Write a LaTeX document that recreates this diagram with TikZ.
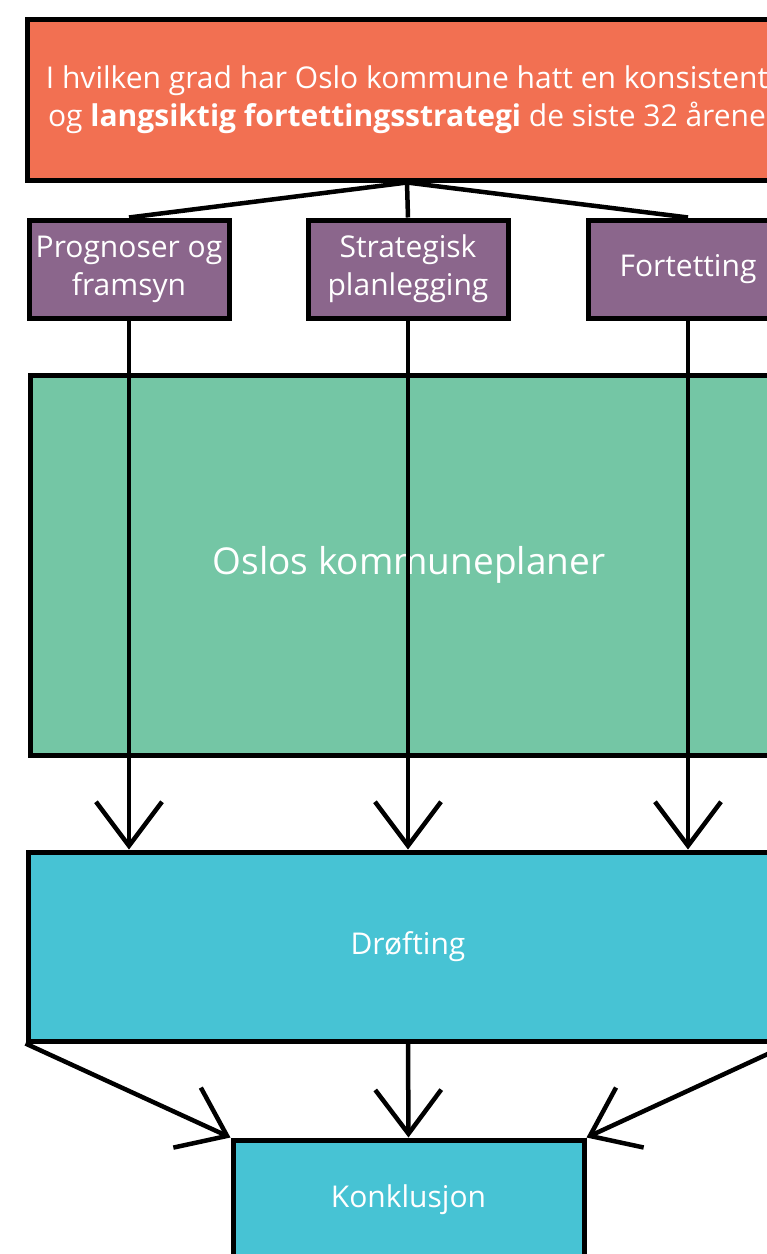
\documentclass[tikz,border=0pt]{standalone}
\usepackage{fontspec}
\setmainfont{Open Sans}
\usetikzlibrary{arrows.meta}
\definecolor{qorange}{RGB}{242,112,82}
\definecolor{tpurple}{RGB}{139,102,140}
\definecolor{pgreen}{RGB}{116,198,165}
\definecolor{rcyan}{RGB}{71,195,212}
\tikzset{
  box/.style={draw=black, line width=5pt, rectangle, text=white, align=center, inner sep=0pt},
  conn/.style={draw=black, line width=4.5pt},
  arr/.style={conn, -{Straight Barb[length=44pt,width=66pt]}},
  txt/.style={font=\fontsize{30}{38}\selectfont}
}
\begin{document}
\begin{tikzpicture}[x=1pt,y=-1pt]
\useasboundingbox (0,0) rectangle (767,1254);
\clip (0,0) rectangle (767,1254);
\fill[white] (0,0) rectangle (767,1254);
\node[box, fill=qorange, txt, minimum width=760pt, minimum height=161pt] (q) at (407,99.5)
  {I hvilken grad har Oslo kommune hatt en konsistent\\og \textbf{langsiktig fortettingsstrategi} de siste 32 årene};
\node[box, fill=tpurple, txt, minimum width=200pt, minimum height=98pt] (p1) at (129,269) {Prognoser og\\framsyn};
\node[box, fill=tpurple, txt, minimum width=200pt, minimum height=98pt] (p2) at (408,269) {Strategisk\\planlegging};
\node[box, fill=tpurple, txt, minimum width=200pt, minimum height=98pt] (p3) at (688,269) {Fortetting};
\node[box, fill=pgreen, font=\fontsize{37}{44}\selectfont, minimum width=758pt, minimum height=380pt] (g) at (409,565) {\raisebox{-4pt}{Oslos kommuneplaner}};
\node[box, fill=rcyan, txt, minimum width=760pt, minimum height=189pt] (d) at (408,946.5) {Drøfting};
\node[box, fill=rcyan, txt, minimum width=351pt, minimum height=120pt] (k) at (408.5,1200) {Konklusjon};
\draw[conn] (q.south) -- (p1.north);
\draw[conn] (q.south) -- (p2.north);
\draw[conn] (q.south) -- (p3.north);
\draw[arr] (p1.south) -- (p1.south |- d.north);
\draw[arr] (p2.south) -- (p2.south |- d.north);
\draw[arr] (p3.south) -- (p3.south |- d.north);
\draw[arr] (d.south west) -- (k.north west);
\draw[arr] (d.south) -- (k.north);
\draw[arr] (d.south east) -- (k.north east);
\end{tikzpicture}
\end{document}
